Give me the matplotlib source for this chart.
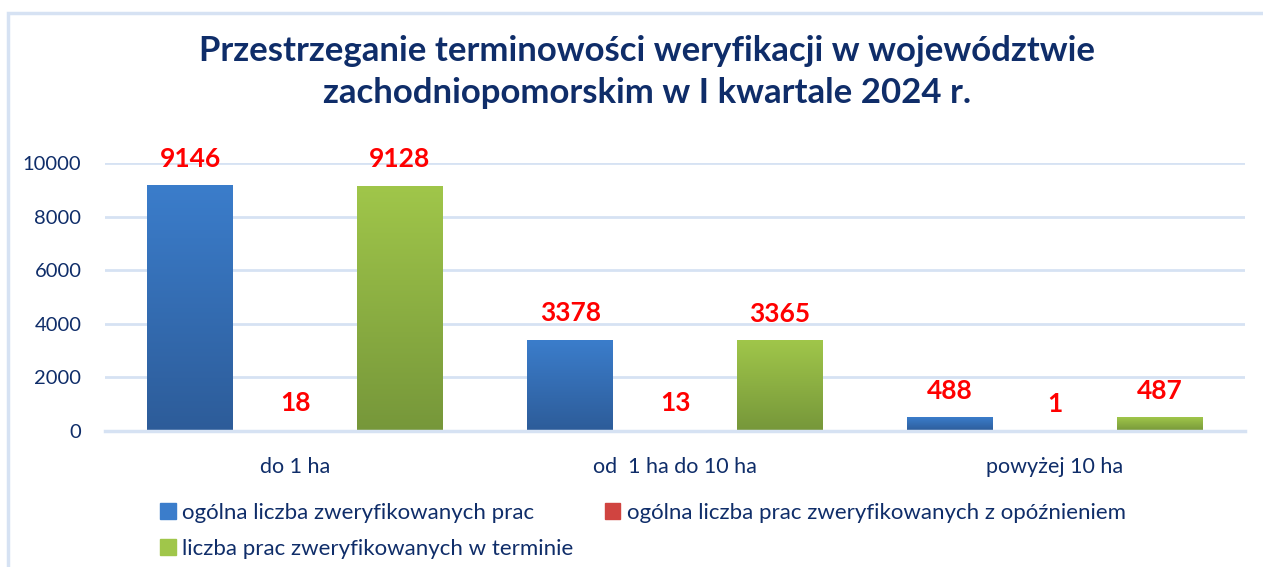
import numpy as np
import matplotlib
matplotlib.use('Agg')
import matplotlib.pyplot as plt
from matplotlib.patches import Rectangle
from matplotlib.colors import LinearSegmentedColormap

categories = ['do 1 ha', 'od  1 ha do 10 ha', 'powyżej 10 ha']
series_names = ['ogólna liczba zweryfikowanych prac',
                'ogólna liczba prac zweryfikowanych z opóźnieniem',
                'liczba prac zweryfikowanych w terminie']
total_verified = [9146, 3378, 488]
verified_late = [18, 13, 1]
verified_on_time = [9128, 3365, 487]
y_ticks = [0, 2000, 4000, 6000, 8000, 10000]

title = 'Przestrzeganie terminowości weryfikacji w województwie\nzachodniopomorskim w I kwartale 2024 r.'

navy = '#0F2D69'
grid_color = '#D6E2F3'
gradients = [('#3B7DCB', '#2D5C99'), ('#D04440', '#A52A2A'), ('#A0C64A', '#76973A')]

plt.rcParams['font.family'] = ['Lato', 'DejaVu Sans']

fig = plt.figure(figsize=(12.63, 5.67), dpi=100)
ax = fig.add_axes([105 / 1263, 1 - 431 / 567, 1140 / 1263, 268 / 567])

x = np.arange(len(categories))
width = 0.226
offset = 0.276
all_values = [total_verified, verified_late, verified_on_time]

for i, values in enumerate(all_values):
    bars = ax.bar(x + (i - 1) * offset, values, width, color=gradients[i][0],
                  linewidth=0, zorder=1.8, label=series_names[i])
    cmap = LinearSegmentedColormap.from_list('g%d' % i, [gradients[i][1], gradients[i][0]])
    grad = np.linspace(0, 1, 256).reshape(-1, 1)
    for b in bars:
        bx, by = b.get_x(), b.get_y()
        bw, bh = b.get_width(), b.get_height()
        ax.imshow(grad, extent=(bx, bx + bw, by, by + bh), origin='lower',
                  aspect='auto', cmap=cmap, zorder=1.9)
        ax.annotate(str(int(bh)), (bx + bw / 2, bh), xytext=(0, 11),
                    textcoords='offset points', ha='center', va='bottom',
                    color='#FF0000', fontsize=19, fontweight='bold',
                    annotation_clip=False)

ax.set_xlim(-0.5, len(categories) - 0.5)
ax.set_ylim(0, 10000)
ax.set_yticks(y_ticks)
ax.set_yticklabels([str(t) for t in y_ticks])
ax.set_xticks(x)
ax.set_xticklabels(categories)
ax.tick_params(axis='y', length=0, pad=17, labelsize=14.5, labelcolor=navy)
ax.tick_params(axis='x', length=0, pad=19, labelsize=15.5, labelcolor=navy)
ax.grid(axis='y', color=grid_color, linewidth=2, zorder=0)
ax.set_axisbelow(True)
for s in ['top', 'right', 'left']:
    ax.spines[s].set_visible(False)
ax.spines['bottom'].set_color(grid_color)
ax.spines['bottom'].set_linewidth(2.5)
ax.spines['bottom'].set_zorder(2.5)

fig.text(647 / 1263, 1 - 72 / 567, title, ha='center', va='center', fontsize=25,
         fontweight='bold', color=navy, linespacing=1.4)

handles, labels = ax.get_legend_handles_labels()
order = [0, 2, 1]
leg = fig.legend([plt.Rectangle((0, 0), 1, 1, color=gradients[i][0]) for i in order],
                 [labels[i] for i in order], ncol=2, loc='upper left',
                 bbox_to_anchor=(140 / 1263, 1 - 483 / 567), frameon=False,
                 fontsize=16, handlelength=0.7, handleheight=0.7,
                 handletextpad=0.3, columnspacing=1.4, labelspacing=0.7)
for t in leg.get_texts():
    t.set_color(navy)

fig.patches.append(Rectangle((8 / 1263, -0.05), 1.1, 1 - 13 / 567 + 0.05,
                             transform=fig.transFigure, fill=False,
                             edgecolor=grid_color, linewidth=2.5))

fig.savefig('out.png', dpi=100)
